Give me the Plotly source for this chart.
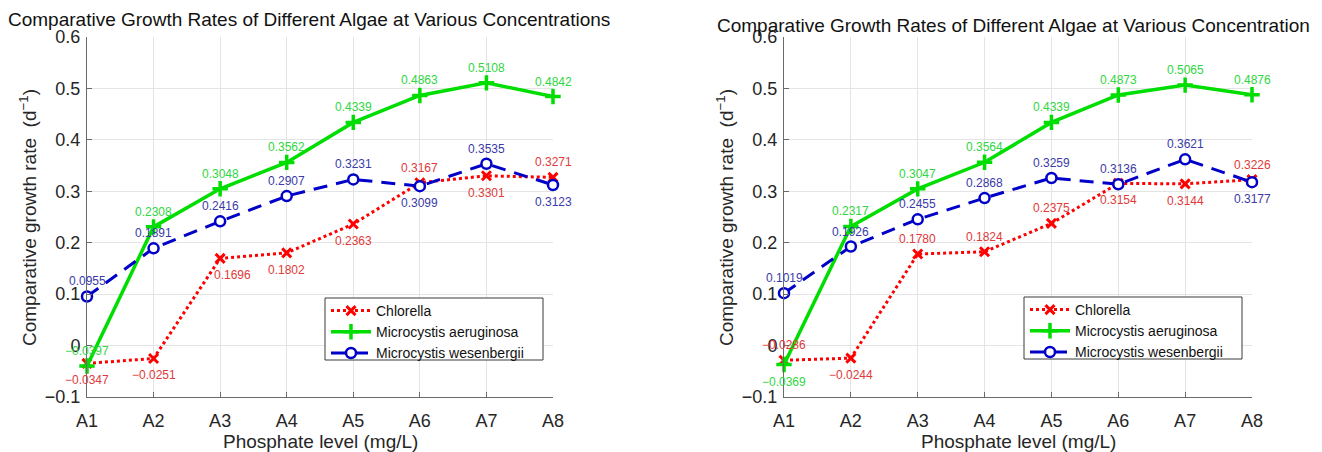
import plotly.graph_objects as go

# Phosphate levels (categories on the x axis)
levels = ["A1", "A2", "A3", "A4", "A5", "A6", "A7", "A8"]
y_tick_vals = [-0.1, 0, 0.1, 0.2, 0.3, 0.4, 0.5, 0.6]
y_tick_text = ["\u22120.1", "0", "0.1", "0.2", "0.3", "0.4", "0.5", "0.6"]

series_names = ["Chlorella", "Microcystis aeruginosa", "Microcystis wesenbergii"]

# Left panel growth rates (d^-1)
left_chlorella = [-0.0347, -0.0251, 0.1696, 0.1802, 0.2363, 0.3167, 0.3301, 0.3271]
left_aeruginosa = [-0.0397, 0.2308, 0.3048, 0.3562, 0.4339, 0.4863, 0.5108, 0.4842]
left_wesenbergii = [0.0955, 0.1891, 0.2416, 0.2907, 0.3231, 0.3099, 0.3535, 0.3123]

# Right panel growth rates (d^-1)
right_chlorella = [-0.0286, -0.0244, 0.1780, 0.1824, 0.2375, 0.3154, 0.3144, 0.3226]
right_aeruginosa = [-0.0369, 0.2317, 0.3047, 0.3564, 0.4339, 0.4873, 0.5065, 0.4876]
right_wesenbergii = [0.1019, 0.1926, 0.2455, 0.2868, 0.3259, 0.3136, 0.3621, 0.3177]

left_title = "Comparative Growth Rates of Different Algae at Various Concentrations"
right_title = "Comparative Growth Rates of Different Algae at Various Concentration"
x_title = "Phosphate level (mg/L)"
y_title = "Comparative growth rate  (d<sup>\u22121</sup>)"

# Where each value label sits relative to its point: a = above, b = below, r = below-right
left_sides = [
    ["b", "b", "r", "b", "b", "a", "b", "a"],
    ["a", "a", "a", "a", "a", "a", "a", "a"],
    ["a", "a", "a", "a", "a", "b", "a", "b"],
]
right_sides = [
    ["a", "b", "a", "a", "a", "b", "b", "a"],
    ["b", "a", "a", "a", "a", "a", "a", "a"],
    ["a", "a", "a", "a", "a", "a", "a", "b"],
]

W, H = 1322, 452
FONT = "Arial, Liberation Sans, sans-serif"

styles = [
    dict(line=dict(color="#ff0000", width=3, dash="3px,3px"),
         marker=dict(symbol="x-thin", size=9, color="#ff0000",
                     line=dict(color="#ff0000", width=3)),
         label_color="#e03a3a"),
    dict(line=dict(color="#00dd00", width=3.5),
         marker=dict(symbol="cross-thin", size=11, color="#00dd00",
                     line=dict(color="#00dd00", width=3.5)),
         label_color="#2fd63f"),
    dict(line=dict(color="#0000c8", width=3, dash="14px,9px"),
         marker=dict(symbol="circle", size=10, color="white",
                     line=dict(color="#0000c8", width=2.5)),
         label_color="#3a3aa8"),
]

shift = {"a": (0, 15), "b": (0, -17), "r": (12, -17)}


def px_x(p):
    return p / W


def px_y(p):
    return 1 - p / H


fig = go.Figure()
annotations = []

panels = [
    dict(data=[left_chlorella, left_aeruginosa, left_wesenbergii], sides=left_sides,
         xa="x", ya="y", legend="legend"),
    dict(data=[right_chlorella, right_aeruginosa, right_wesenbergii], sides=right_sides,
         xa="x2", ya="y2", legend="legend2"),
]

for panel in panels:
    for name, vals, st, sides in zip(series_names, panel["data"], styles, panel["sides"]):
        fig.add_trace(go.Scatter(
            x=levels, y=vals, name=name, mode="lines+markers",
            line=st["line"], marker=st["marker"],
            xaxis=panel["xa"], yaxis=panel["ya"], legend=panel["legend"],
            cliponaxis=False,
        ))
        for lv, v, s in zip(levels, vals, sides):
            dx, dy = shift[s]
            annotations.append(dict(
                x=lv, y=v, xref=panel["xa"], yref=panel["ya"],
                text=f"{v:.4f}".replace("-", "\u2212"), showarrow=False,
                xshift=dx, yshift=dy, xanchor="center", yanchor="middle",
                font=dict(family=FONT, size=12, color=st["label_color"]),
            ))

# Titles and axis labels
for title, tx, ty in [(left_title, 6, 19), (right_title, 715, 25)]:
    annotations.append(dict(
        x=px_x(tx), y=px_y(ty), xref="paper", yref="paper", text=title,
        showarrow=False, xanchor="left", yanchor="middle",
        font=dict(family=FONT, size=19, color="#111111"),
    ))
for cx in [320, 1018]:
    annotations.append(dict(
        x=px_x(cx), y=px_y(441), xref="paper", yref="paper", text=x_title,
        showarrow=False, xanchor="center", yanchor="middle",
        font=dict(family=FONT, size=19, color="#262626"),
    ))
for cx in [28, 725]:
    annotations.append(dict(
        x=px_x(cx), y=px_y(218), xref="paper", yref="paper", text=y_title,
        showarrow=False, xanchor="center", yanchor="middle", textangle=-90,
        font=dict(family=FONT, size=19, color="#262626"),
    ))

axis_common = dict(
    automargin=False,
    showline=True, linecolor="#6a6a6a", linewidth=1,
    ticks="inside", ticklen=5, tickcolor="#6a6a6a", tickwidth=1,
    showgrid=True, gridcolor="#e4e4e4", gridwidth=1,
    zeroline=False, tickfont=dict(family=FONT, size=18, color="#262626"),
)

x_common = dict(axis_common, type="category", categoryorder="array",
                categoryarray=levels, range=[0, 7], ticklabelstandoff=7)
y_common = dict(axis_common, range=[-0.1, 0.6], tickvals=y_tick_vals,
                ticktext=y_tick_text, ticklabelstandoff=2)

y_dom = [px_y(397), px_y(37)]

# Legend frames are drawn as rectangles; the legends themselves are borderless
legend_common = dict(
    bgcolor="rgba(0,0,0,0)", borderwidth=0,
    font=dict(family=FONT, size=14, color="#111111"),
    xanchor="left", yanchor="top", itemwidth=40, tracegroupgap=0,
    itemclick=False, itemdoubleclick=False,
)

frames = [(325, 298, 543, 360), (1024, 297, 1242, 359)]
shapes = [
    dict(type="rect", xref="paper", yref="paper",
         x0=px_x(x0), x1=px_x(x1), y0=px_y(y1), y1=px_y(y0),
         line=dict(color="#3a3a3a", width=1), fillcolor="white", layer="above")
    for x0, y0, x1, y1 in frames
]

fig.update_layout(
    width=W, height=H,
    margin=dict(l=0, r=0, t=0, b=0, autoexpand=False),
    paper_bgcolor="white", plot_bgcolor="white",
    showlegend=True,
    xaxis=dict(x_common, domain=[px_x(87), px_x(553)], anchor="y"),
    yaxis=dict(y_common, domain=y_dom, anchor="x"),
    xaxis2=dict(x_common, domain=[px_x(784), px_x(1252)], anchor="y2"),
    yaxis2=dict(y_common, domain=y_dom, anchor="x2"),
    legend=dict(legend_common, x=px_x(326), y=px_y(295)),
    legend2=dict(legend_common, x=px_x(1025), y=px_y(294)),
    shapes=shapes,
    annotations=annotations,
)

fig.write_html("out.html")
